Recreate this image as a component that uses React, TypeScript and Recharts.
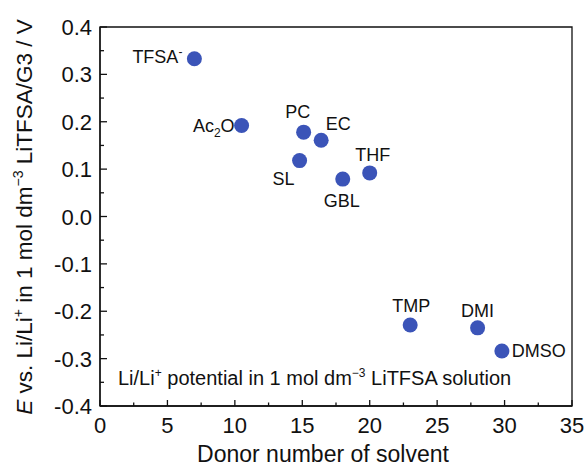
import React from "react";
import { ScatterChart, Scatter, XAxis, YAxis, ReferenceArea, Customized } from "recharts";

const solvents = ["TFSA", "Ac2O", "PC", "EC", "SL", "GBL", "THF", "TMP", "DMI", "DMSO"];
const donorNumbers = [7.0, 10.5, 15.1, 16.4, 14.8, 18.0, 20.0, 23.0, 28.0, 29.8];
const potentials = [0.333, 0.192, 0.178, 0.161, 0.118, 0.079, 0.092, -0.229, -0.235, -0.284];

const xTicks = [0, 2.5, 5, 7.5, 10, 12.5, 15, 17.5, 20, 22.5, 25, 27.5, 30, 32.5, 35];
const yTicks = [-0.4, -0.35, -0.3, -0.25, -0.2, -0.15, -0.1, -0.05, 0, 0.05, 0.1, 0.15, 0.2, 0.25, 0.3, 0.35, 0.4];

const data = solvents.map((name, i) => ({ name, x: donorNumbers[i], y: potentials[i] }));

const FONT = "'Liberation Sans', Arial, sans-serif";
const DOT = "#3b54b8";

// label placement relative to point centre: [dx, dy(baseline), anchor]
const labelPlacement: Record<string, [number, number, "start" | "middle" | "end"]> = {
  TFSA: [-12, 4, "end"],
  Ac2O: [-7, 6, "end"],
  PC: [-6, -14, "middle"],
  EC: [17, -10, "middle"],
  SL: [-16, 24, "middle"],
  GBL: [-1, 28, "middle"],
  THF: [3, -12, "middle"],
  TMP: [1, -13, "middle"],
  DMI: [0, -11, "middle"],
  DMSO: [10, 6, "start"],
};

const renderLabelText = (name: string) => {
  if (name === "TFSA")
    return (
      <>
        TFSA<tspan fontSize={12} dy={-7}>-</tspan>
      </>
    );
  if (name === "Ac2O")
    return (
      <>
        Ac<tspan fontSize={12} dy={5}>2</tspan>
        <tspan dy={-5}>O</tspan>
      </>
    );
  return name;
};

const PointShape = (props: any) => {
  const { cx, cy, payload } = props;
  const [dx, dy, anchor] = labelPlacement[payload.name];
  return (
    <g>
      <circle cx={cx} cy={cy} r={7.5} fill={DOT} />
      <text x={cx + dx} y={cy + dy} textAnchor={anchor} fontSize={18} fontFamily={FONT} fill="#111">
        {renderLabelText(payload.name)}
      </text>
    </g>
  );
};

const isMajor = (v: number, step: number) => Math.abs(v / step - Math.round(v / step)) < 1e-6;

const XTick = (props: any) => {
  const { x, y, payload } = props;
  const v = payload.value;
  const major = isMajor(v, 5);
  return (
    <g>
      <line x1={x} y1={y} x2={x} y2={y - (major ? 6 : 3.5)} stroke="#111" strokeWidth={1.3} />
      {major && (
        <text x={x} y={y + 27} textAnchor="middle" fontSize={22} fontFamily={FONT} fill="#111">
          {String(v)}
        </text>
      )}
    </g>
  );
};

const YTick = (props: any) => {
  const { x, y, payload } = props;
  const v = payload.value;
  const major = isMajor(v, 0.1);
  return (
    <g>
      <line x1={x} y1={y} x2={x + (major ? 7 : 4)} y2={y} stroke="#111" strokeWidth={1.3} />
      {major && (
        <text x={x - 8} y={y + 8} textAnchor="end" fontSize={22} fontFamily={FONT} fill="#111">
          {v.toFixed(1)}
        </text>
      )}
    </g>
  );
};

const Extras = () => (
  <g fontFamily={FONT} fill="#111">
    <text x={118} y={385} fontSize={20}>
      Li/Li<tspan fontSize={12} dy={-8}>+</tspan>
      <tspan dy={8}> potential in 1 mol dm</tspan>
      <tspan fontSize={12} dy={-8}>−3</tspan>
      <tspan dy={8}> LiTFSA solution</tspan>
    </text>
    <text x={323} y={462} fontSize={23} textAnchor="middle">
      Donor number of solvent
    </text>
    <text transform="translate(32,217) rotate(-90)" x={0} y={0} fontSize={22.5} textAnchor="middle">
      <tspan fontStyle="italic">E</tspan> vs. Li/Li<tspan fontSize={14} dy={-9}>+</tspan>
      <tspan dy={9}> in 1 mol dm</tspan>
      <tspan fontSize={14} dy={-9}>−3</tspan>
      <tspan dy={9}> LiTFSA/G3 / V</tspan>
    </text>
  </g>
);

export default function App() {
  return (
    <div style={{ position: "absolute", left: 0, top: 0, width: 585, height: 468, background: "#fff" }}>
      <ScatterChart width={585} height={468} margin={{ top: 27, right: 13, bottom: 22, left: 40 }}>
        <XAxis
          type="number"
          dataKey="x"
          domain={[0, 35]}
          ticks={xTicks}
          interval={0}
          height={40}
          tickSize={0}
          tickMargin={0}
          tickLine={false}
          tick={<XTick />}
          axisLine={{ stroke: "#111", strokeWidth: 1.3 }}
        />
        <YAxis
          type="number"
          dataKey="y"
          domain={[-0.4, 0.4]}
          ticks={yTicks}
          interval={0}
          width={60}
          tickSize={0}
          tickMargin={0}
          tickLine={false}
          tick={<YTick />}
          axisLine={{ stroke: "#111", strokeWidth: 1.3 }}
        />
        <ReferenceArea x1={0} x2={35} y1={-0.4} y2={0.4} fill="none" stroke="#111" strokeWidth={1.3} ifOverflow="visible" />
        <Scatter data={data} isAnimationActive={false} shape={<PointShape />} />
        <Customized component={<Extras />} />
      </ScatterChart>
    </div>
  );
}
